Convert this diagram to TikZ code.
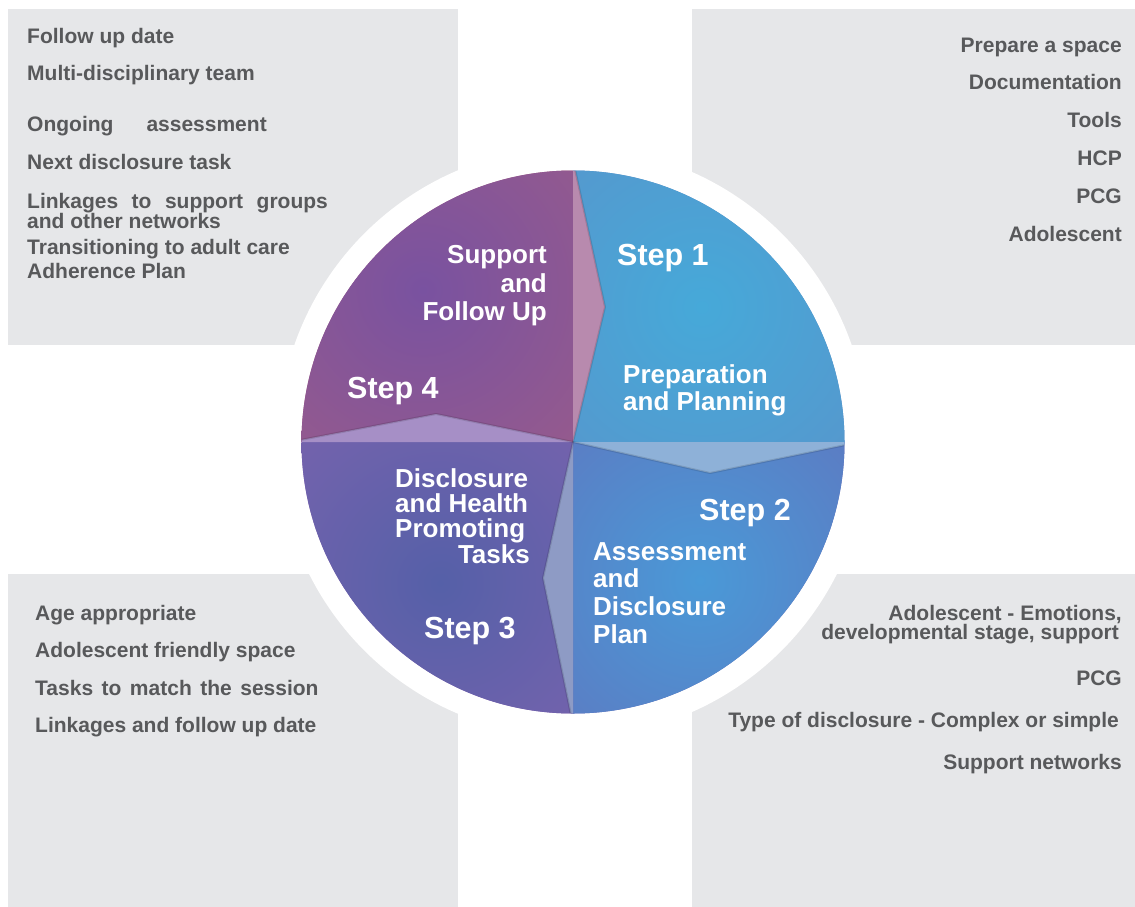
\documentclass[tikz,border=0pt]{standalone}
\usepackage{fontspec}
\setmainfont{Liberation Sans}
\definecolor{boxgray}{HTML}{E6E7E9}
\definecolor{txtgray}{HTML}{58595B}
\definecolor{sfourout}{HTML}{A65F82}
\definecolor{sfourin}{HTML}{7952A0}
\definecolor{sfourarr}{HTML}{B88AAE}
\definecolor{soneout}{HTML}{5F8DC6}
\definecolor{sonein}{HTML}{46A9D9}
\definecolor{sonearr}{HTML}{8EB1D8}
\definecolor{stwoout}{HTML}{6769B6}
\definecolor{stwoin}{HTML}{4A99D7}
\definecolor{stwoarr}{HTML}{8E9BC5}
\definecolor{sthreeout}{HTML}{8A64B0}
\definecolor{sthreein}{HTML}{5560A8}
\definecolor{sthreearr}{HTML}{A68FC6}
\begin{document}
\begin{tikzpicture}[x=1pt,y=-1pt,
  greybox/.style={fill=boxgray},
  lt/.style={text=txtgray,font=\bfseries\fontsize{21}{22}\selectfont,inner sep=0pt,anchor=base west},
  rt/.style={text=txtgray,font=\bfseries\fontsize{21}{22}\selectfont,inner sep=0pt,anchor=base east},
  wtl/.style={text=white,font=\bfseries\fontsize{26}{27}\selectfont,inner sep=0pt,anchor=base west},
  wtr/.style={text=white,font=\bfseries\fontsize{26}{27}\selectfont,inner sep=0pt,anchor=base east},
  steplbl/.style={text=white,font=\bfseries\fontsize{30.5}{31}\selectfont,inner sep=0pt,anchor=base west},
  edgeshade/.style={draw=black,draw opacity=0.12,line width=2pt}]
\useasboundingbox (0,0) rectangle (1135,907);
% grey panels
\fill[greybox] (8,9) rectangle (458,345);
\fill[greybox] (692,9) rectangle (1135,345);
\fill[greybox] (8,574) rectangle (458,907);
\fill[greybox] (692,574) rectangle (1135,907);
% white halo
\fill[white] (573,442) circle (295);
\coordinate (C) at (573,442);
\begin{scope}
\clip (C) circle (271.5);
% step 4 quadrant (top-left)
\begin{scope}
\clip (573,442) rectangle (250,150);
\fill[sfourout] (573,442) rectangle (250,150);
\shade[inner color=sfourin,outer color=sfourout] (423,290) circle (350);
\end{scope}
% step 1 quadrant (top-right)
\begin{scope}
\clip (573,442) rectangle (900,150);
\fill[soneout] (573,442) rectangle (900,150);
\shade[inner color=sonein,outer color=soneout] (702,307) circle (340);
\end{scope}
% step 2 quadrant (bottom-right)
\begin{scope}
\clip (573,442) rectangle (900,740);
\fill[stwoout] (573,442) rectangle (900,740);
\shade[inner color=stwoin,outer color=stwoout] (700,580) circle (340);
\end{scope}
% step 3 quadrant (bottom-left)
\begin{scope}
\clip (573,442) rectangle (250,740);
\fill[sthreeout] (573,442) rectangle (250,740);
\shade[inner color=sthreein,outer color=sthreeout] (440,583) circle (350);
\end{scope}
% chevron arrows
\fill[sfourarr] (573,160) -- (605,307) -- (573,442) -- cycle;
\draw[edgeshade] (573,160) -- (605,307) -- (573,442);
\fill[sonearr] (573,442) -- (710,473) -- (860,442) -- cycle;
\draw[edgeshade] (573,442) -- (710,473) -- (860,442);
\fill[stwoarr] (573,442) -- (543,578) -- (573,725) -- cycle;
\draw[edgeshade] (573,442) -- (543,578) -- (573,725);
\fill[sthreearr] (290,442) -- (436,414) -- (573,442) -- cycle;
\draw[edgeshade] (290,442) -- (436,414) -- (573,442);
\end{scope}
% pie labels
\node[wtr] (sfu1) at (547,263) {Support};
\node[wtr] (sfu2) at (547,292) {and};
\node[wtr] (sfu3) at (547,320) {Follow Up};
\node[steplbl] (step4) at (347,398) {Step 4};
\node[steplbl] (step1) at (617,265) {Step 1};
\node[wtl] (pp1) at (623,383) {Preparation};
\node[wtl] (pp2) at (623,410) {and Planning};
\node[steplbl] (step2) at (699,520) {Step 2};
\node[wtl] (adp1) at (593,560) {Assessment};
\node[wtl] (adp2) at (593,587) {and};
\node[wtl] (adp3) at (593,615) {Disclosure};
\node[wtl] (adp4) at (593,643) {Plan};
\node[wtl] (dh1) at (395,487) {Disclosure};
\node[wtl] (dh2) at (395,512) {and Health};
\node[wtl] (dh3) at (395,537) {Promoting};
\node[wtr] (dh4) at (530,563) {Tasks};
\node[steplbl] (step3) at (424,638) {Step 3};
% top-left list
\node[lt] (tl1) at (27,44) {Follow up date};
\node[lt] (tl2) at (27,81) {Multi-disciplinary team};
\node[lt] (tl3) at (27,131) {Ongoing\hspace{33pt}assessment};
\node[lt] (tl4) at (27,169) {Next disclosure task};
\node[lt] (tl5) at (27,208) {Linkages\hspace{13.5pt}to\hspace{13.5pt}support\hspace{13.5pt}groups};
\node[lt] (tl6) at (27,228) {and other networks};
\node[lt] (tl7) at (27,254) {Transitioning to adult care};
\node[lt] (tl8) at (27,278) {Adherence Plan};
% top-right list
\node[rt] (tr1) at (1122,53) {Prepare a space};
\node[rt] (tr2) at (1122,89) {Documentation};
\node[rt] (tr3) at (1122,127) {Tools};
\node[rt] (tr4) at (1122,165) {HCP};
\node[rt] (tr5) at (1122,203) {PCG};
\node[rt] (tr6) at (1122,241) {Adolescent};
% bottom-left list
\node[lt] (bl1) at (35,620) {Age appropriate};
\node[lt] (bl2) at (35,657) {Adolescent friendly space};
\node[lt] (bl3) at (35,695) {Tasks\hspace{8.5pt}to\hspace{8.5pt}match\hspace{8.5pt}the\hspace{8.5pt}session};
\node[lt] (bl4) at (35,732) {Linkages and follow up date};
% bottom-right list
\node[rt] (br1) at (1122,620) {Adolescent - Emotions,};
\node[rt] (br2) at (1119,639) {developmental stage, support};
\node[rt] (br3) at (1122,685) {PCG};
\node[rt] (br4) at (1119,727) {Type of disclosure - Complex or simple};
\node[rt] (br5) at (1122,769) {Support networks};
\end{tikzpicture}
\end{document}
